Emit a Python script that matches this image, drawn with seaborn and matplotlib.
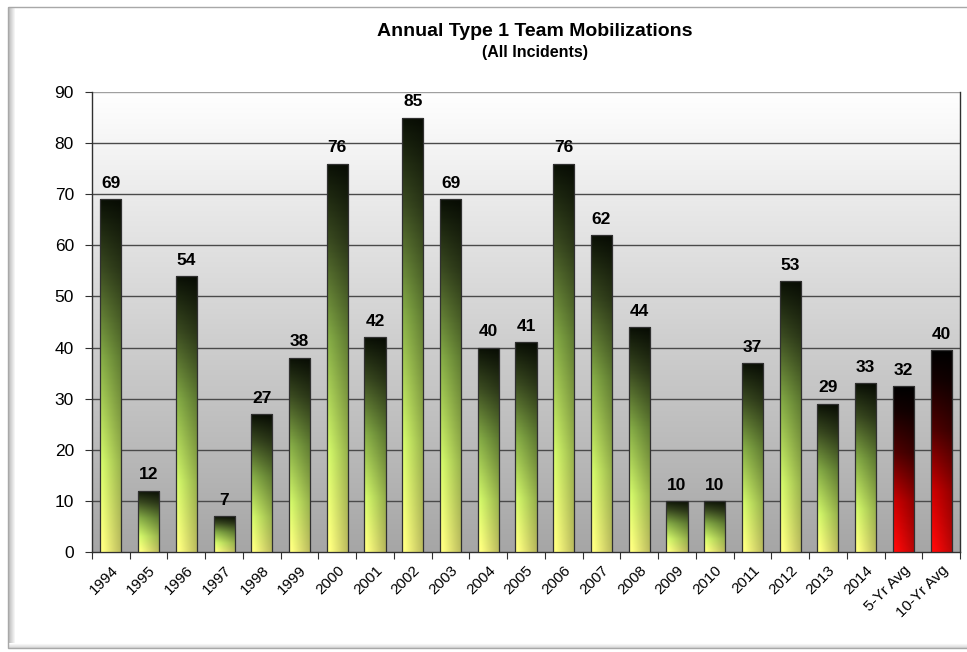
import numpy as np
import pandas as pd
import matplotlib
matplotlib.use("Agg")
import matplotlib.pyplot as plt
from matplotlib.colors import LinearSegmentedColormap
from matplotlib.patches import Rectangle
import seaborn as sns

categories = ["1994", "1995", "1996", "1997", "1998", "1999", "2000", "2001", "2002",
              "2003", "2004", "2005", "2006", "2007", "2008", "2009", "2010", "2011",
              "2012", "2013", "2014", "5-Yr Avg", "10-Yr Avg"]
values = [69, 12, 54, 7, 27, 38, 76, 42, 85, 69, 40, 41, 76, 62, 44, 10, 10, 37, 53,
          29, 33, 32.4, 39.5]
bar_kind = ["year"] * 21 + ["avg"] * 2
y_ticks = [0, 10, 20, 30, 40, 50, 60, 70, 80, 90]
title = "Annual Type 1 Team Mobilizations"
subtitle = "(All Incidents)"

df = pd.DataFrame({"category": categories, "value": values, "kind": bar_kind})

sns.set_theme(style="white")
plt.rcParams["font.family"] = ["Liberation Sans", "DejaVu Sans"]
plt.rcParams["text.color"] = "black"
plt.rcParams["xtick.color"] = "black"
plt.rcParams["ytick.color"] = "black"
plt.rcParams["axes.labelcolor"] = "black"

fig = plt.figure(figsize=(9.67, 6.52), dpi=100)
fig.patch.set_facecolor("white")

# outer frame (background axes in pixel coords)
bg = fig.add_axes([0, 0, 1, 1], zorder=-10)
bg.set_xlim(0, 967)
bg.set_ylim(652, 0)
bg.axis("off")
shadow = np.linspace(0.72, 1.0, 8)[None, :]
bg.imshow(np.dstack([shadow, shadow, shadow]), extent=(8, 16, 648, 8), aspect="auto",
          interpolation="bilinear", zorder=1)
shadow_b = np.linspace(1.0, 0.85, 5)[:, None]
bg.imshow(np.dstack([shadow_b, shadow_b, shadow_b]) * np.ones((5, 10, 3)),
          extent=(8, 967, 648, 643), aspect="auto", interpolation="bilinear", zorder=1)
bg.add_patch(Rectangle((8, 7), 970, 641, fill=False, edgecolor="#a8a8a8", lw=1.0, zorder=2))

ax = fig.add_axes([92 / 967, 1 - 552 / 652, (960 - 92) / 967, (552 - 92) / 652])

sns.barplot(data=df, x="category", y="value", hue="kind", palette={"year": "#7a9a30", "avg": "#a00000"},
            width=0.56, legend=False, ax=ax, zorder=3, dodge=False)

ax.set_ylim(0, 90)
ax.set_xlim(-0.5, len(categories) - 0.5)

# plot background gradient
grad = np.linspace(1.0, 0.65, 256)[:, None]
ax.imshow(np.dstack([grad, grad, grad]) * np.ones((256, 2, 3)),
          extent=(-0.5, len(categories) - 0.5, 0, 90), aspect="auto",
          interpolation="bilinear", zorder=0)

green = LinearSegmentedColormap.from_list("g", [
    (0.0, "#ffff80"), (0.25, "#d0f468"), (0.55, "#82a844"), (0.8, "#3a4a20"), (1.0, "#0a1005")])
red = LinearSegmentedColormap.from_list("r", [
    (0.0, "#ff0808"), (0.3, "#c80000"), (0.6, "#500000"), (0.85, "#150000"), (1.0, "#000000")])

cols = np.linspace(1.05, 0.72, 40)
rows = np.linspace(1, 0, 200)
for patch, kind in zip(ax.patches, df["kind"]):
    x0, y0 = patch.get_x(), patch.get_y()
    w, h = patch.get_width(), patch.get_height()
    cmap = green if kind == "year" else red
    rgb = cmap(rows)[:, :3]
    img = np.clip(rgb[:, None, :] * cols[None, :, None], 0, 1)
    im = ax.imshow(img, extent=(x0, x0 + w, y0, y0 + h), aspect="auto",
                   interpolation="bilinear", zorder=3)
    im.set_clip_path(patch)
    patch.set_facecolor("none")
    patch.set_edgecolor("#303030")
    patch.set_linewidth(0.9)
    patch.set_zorder(4)

ax.bar_label(ax.containers[0], labels=[f"{v:.0f}" for v in df["value"][df["kind"] == "year"]],
             padding=6, fontsize=12.5, fontweight="bold", color="black")
ax.bar_label(ax.containers[1], labels=[f"{v:.0f}" for v in df["value"][df["kind"] == "avg"]],
             padding=6, fontsize=12.5, fontweight="bold", color="black")

for t in y_ticks[1:]:
    ax.axhline(t, color="#4a4a4a" if t < 90 else "#a0a0a0", lw=1.0, zorder=1)

ax.set_yticks(y_ticks)
ax.set_yticklabels([str(t) for t in y_ticks], fontsize=12.5)
ax.set_xticks(range(len(categories)))
ax.set_xticklabels(categories, rotation=45, ha="right", rotation_mode="anchor", fontsize=11)
ax.set_xticks(np.arange(-0.5, len(categories), 1.0), minor=True)
ax.tick_params(axis="x", which="major", length=0, pad=8)
ax.tick_params(axis="x", which="minor", length=5, width=0.8, color="#303030", direction="out", bottom=True)
ax.tick_params(axis="y", length=5, width=0.8, color="#303030", labelcolor="black", direction="out", left=True, pad=8)
ax.tick_params(axis="x", labelcolor="black")
ax.set_xlabel("")
ax.set_ylabel("")
for side in ["left", "bottom", "right"]:
    ax.spines[side].set_visible(True)
    ax.spines[side].set_color("#303030")
    ax.spines[side].set_linewidth(1.0)
ax.spines["top"].set_visible(False)

fig.text(535 / 967, 1 - 32 / 652, title, ha="center", va="center", fontsize=14, fontweight="bold", color="black")
fig.text(535 / 967, 1 - 52 / 652, subtitle, ha="center", va="center", fontsize=11.5, fontweight="bold", color="black")

fig.savefig("out.png", dpi=100, facecolor="white")
